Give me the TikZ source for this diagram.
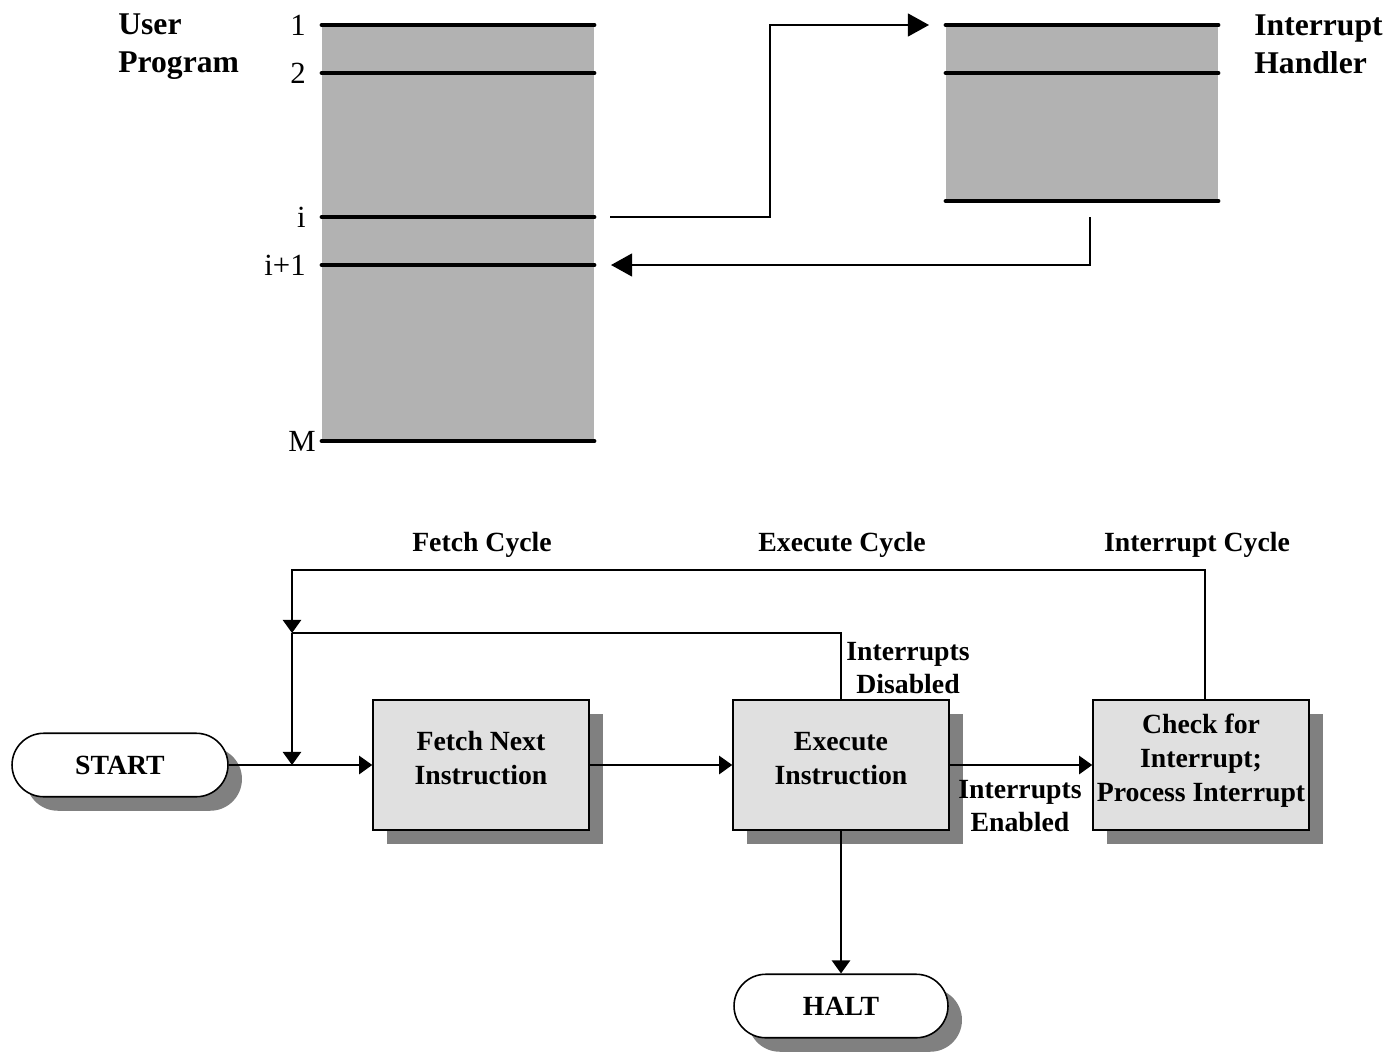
\documentclass[tikz,border=0pt]{standalone}
\usepackage{fontspec}
\setmainfont{Liberation Serif}
\usetikzlibrary{arrows.meta,shapes.misc}
\definecolor{memgray}{RGB}{178,178,178}
\definecolor{boxgray}{RGB}{224,224,224}
\definecolor{shadowgray}{RGB}{128,128,128}
\newcommand{\stacktext}[1]{\raisebox{0pt}[\height][\dimexpr\depth+5pt\relax]{\begin{tabular}{@{}c@{}}#1\end{tabular}}}

\begin{document}
\begin{tikzpicture}[x=0.02cm, y=-0.02cm,
  bigtitle/.style={align=left, anchor=west, inner sep=0pt, font=\fontsize{18}{21.5}\selectfont\bfseries},
  rowlabel/.style={anchor=east, inner sep=0pt, font=\fontsize{17.5}{20}\selectfont},
  bar/.style={line width=2.8pt, line cap=round},
  bigarrow/.style={line width=1.1pt, -{Triangle[length=12pt,width=13pt]}},
  smallarrow/.style={line width=0.9pt, -{Triangle[length=7.5pt,width=10.5pt]}},
  cyclelabel/.style={inner sep=0pt, align=center, font=\fontsize{15.8}{19}\selectfont\bfseries},
  stepbox/.style={draw, line width=0.9pt, fill=boxgray, minimum width=4.32cm, minimum height=2.6cm, align=center, inner sep=0pt, font=\fontsize{15.8}{19.3}\selectfont\bfseries, preaction={fill=shadowgray, transform canvas={xshift=0.28cm,yshift=-0.28cm}}},
  termbox/.style={rounded rectangle, draw, line width=0.9pt, fill=white, minimum width=4.32cm, minimum height=1.27cm, inner sep=0pt, font=\fontsize{15.8}{19.3}\selectfont\bfseries, preaction={fill=shadowgray, transform canvas={xshift=0.28cm,yshift=-0.28cm}}}]
  \useasboundingbox (0,0) rectangle (1388,1051);

  % user program
  \fill[memgray] (322,25) rectangle (594,441);
  \foreach \y/\t/\n in {25/1/u1, 73/2/u2, 217/i/ui, 265/i+1/uj} {
    \draw[bar] (322,\y) coordinate (\n) -- (594,\y);
    \node[rowlabel] at (306,\y) {\t};
  }
  \draw[bar] (322,441) coordinate (um) -- (594,441);
  \node[rowlabel] at (316,441) {M};
  \node[bigtitle] (user) at (118,47) {User\\Program};

  % interrupt handler
  \fill[memgray] (946,25) rectangle (1218,201);
  \foreach \y/\n in {25/h1, 73/h2, 201/hn}
    \draw[bar] (946,\y) coordinate (\n) -- (1218,\y);
  \node[bigtitle] (handler) at (1254,44) {Interrupt\\Handler};

  \coordinate (iout) at (610,217);
  \coordinate (hin) at (929,25);
  \coordinate (hout) at (1090,217);
  \coordinate (jin) at (611,265);
  \draw[bigarrow] (iout) -- (770,217) |- (hin);
  \draw[bigarrow] (hout) |- (jin);

  % instruction cycle
  \node[termbox] (start) at (120,765) {START};
  \node[stepbox] (fetch) at (481,765) {\stacktext{Fetch Next\\Instruction}};
  \node[stepbox] (exec) at (841,765) {\stacktext{Execute\\Instruction}};
  \node[stepbox] (check) at (1201,765) {\stacktext{Check for\\Interrupt;\\Process Interrupt}};
  \node[termbox, minimum width=4.28cm] (halt) at (841,1006) {HALT};

  \node[cyclelabel] (fcyc) at (482,545) {Fetch Cycle};
  \node[cyclelabel] (ecyc) at (842,545) {Execute Cycle};
  \node[cyclelabel] (icyc) at (1197,545) {Interrupt Cycle};
  \node[cyclelabel] (dis) at (908,668) {Interrupts\\Disabled};
  \node[cyclelabel] (ena) at (1020,806) {Interrupts\\Enabled};

  \coordinate (jtop) at (292,633);
  \coordinate (jlow) at (292,765);
  \draw[line width=0.9pt] (start.east) -- (jlow);
  \draw[smallarrow] (jlow) -- (fetch.west);
  \draw[smallarrow] (fetch.east) -- (exec.west);
  \draw[smallarrow] (exec.east) -- (check.west);
  \draw[smallarrow] (exec.south) -- (halt.north);
  \draw[smallarrow] ([xshift=0.08cm]check.north) |- (292,570) -- (jtop);
  \draw[line width=0.9pt] (exec.north) |- (jtop);
  \draw[smallarrow] (jtop) -- (jlow);
\end{tikzpicture}
\end{document}
